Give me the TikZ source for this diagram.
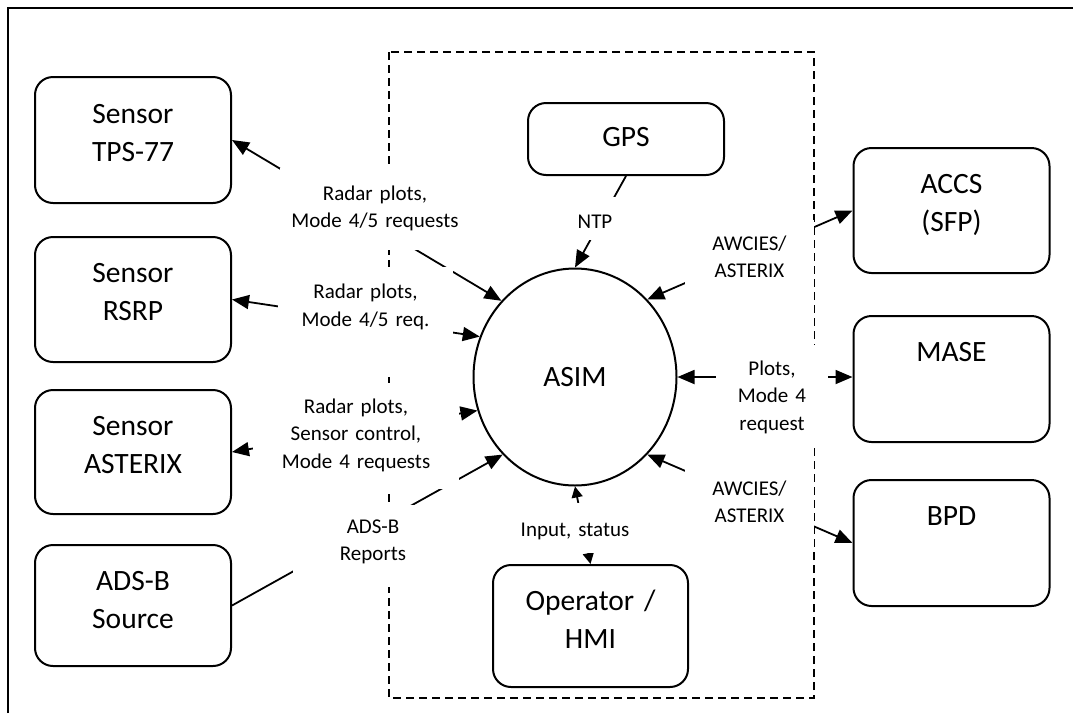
\documentclass[tikz,border=0pt]{standalone}
\usepackage{fontspec}
\setmainfont{Carlito}
\usetikzlibrary{arrows.meta,shapes.geometric}
\newcommand\boxfont{\fontsize{29.5}{38}\selectfont}
\newcommand\lblfont{\fontsize{21}{27.5}\selectfont}
\begin{document}
\begin{tikzpicture}[x=1pt,y=-1pt,
  blk/.style 2 args={draw, line width=2pt, rounded corners=18pt, inner sep=0pt,
    text width=196pt, align=center, font=\boxfont, text height=#1, text depth=#2},
  lbl/.style={fill=white, inner sep=0pt, align=center, font=\lblfont},
  link/.style={line width=1.8pt},
  >={Triangle[length=17pt,width=14pt]},
  smalltips/.style={>={Triangle[length=11pt,width=11pt]}},
  boundary/.style={line width=1.8pt, dash pattern=on 8pt off 5pt}]
\useasboundingbox (0,0) rectangle (1073,713);

% outer frame (top and left edges only)
\draw[line width=2pt] (8,713) -- (8,8) -- (1073,8);

% external systems, left column
\node[blk={46pt}{80pt}] (tps)      at (133,140)   {Sensor\\TPS-77};
\node[blk={45pt}{80pt}] (rsrp)     at (133,299.5) {Sensor\\RSRP};
\node[blk={45pt}{79pt}] (asterixs) at (133,452)   {Sensor\\ASTERIX};
\node[blk={45pt}{76pt}] (adsb)     at (133,605.5) {ADS-B\\Source};

% external systems, right column
\node[blk={45pt}{80pt}] (accs) at (951.5,210.5) {ACCS\\(SFP)};
\node[blk={45pt}{81pt}] (mase) at (951.5,379)   {MASE};
\node[blk={45pt}{81pt}] (bpd)  at (951.5,543)   {BPD};

% elements inside the system boundary
\node[blk={43pt}{29pt}] (gps) at (626,139)   {GPS};
\node[blk={45pt}{77pt}, text width=195pt] (op) at (590.5,626) {Operator /\\HMI};
\node[draw, ellipse, line width=2pt, minimum width=203pt, minimum height=217pt,
      inner sep=0pt, font=\boxfont] (asim) at (575,377) {ASIM};

% system boundary
\draw[boundary] (389,52) rectangle (814,698);

% data flows
\draw[link,<->] (tps.east) -- (asim.134);
\draw[link,<->] (rsrp.east) -- (asim.157);
\draw[link,<->] (asterixs.east) -- (asim.199);
\draw[link,->]  (adsb.east) -- (asim.227);
\draw[link,->]  (gps.south) -- (asim.north);
\draw[link,<->] (asim.47) -- (accs.west);
\draw[link,<->] (asim.east) -- (asim.east -| mase.west);
\draw[link,<->] (asim.-47) -- (bpd.west);
\draw[link,smalltips,<->] (asim.south) -- (op.north);

% flow labels
\node[lbl, text width=190pt, text height=32pt, text depth=50pt] (l1) at (375,209)
  {Radar plots,\\Mode 4/5 requests};
\node[lbl, text width=175pt, text height=31.5pt, text depth=78.5pt] (l2) at (365.5,322)
  {Radar plots,\\Mode 4/5 req.};
\node[lbl, text width=206pt, text height=30pt, text depth=76pt] (l3) at (356,436)
  {Radar plots,\\Sensor control,\\Mode 4 requests};
\node[lbl, text width=160pt, text height=28pt, text depth=54pt] (l4) at (373,546)
  {ADS-B\\Reports};
\node[lbl, text width=60pt, text height=31pt, text depth=12pt] (l5) at (595,218.5)
  {NTP};
\node[lbl, text width=129pt, text height=30pt, text depth=95pt] (l6) at (749.5,282.5)
  {AWCIES/\\ASTERIX};
\node[lbl, text width=112pt, text height=30pt, text depth=72pt] (l7) at (772,396)
  {Plots,\\Mode 4\\request};
\node[lbl, text width=129pt, text height=48pt, text depth=52pt] (l8) at (749.5,497)
  {AWCIES/\\ASTERIX};
\node[lbl, text width=130pt, text height=33pt, text depth=17pt] (l9) at (575,528)
  {Input, status};
\end{tikzpicture}
\end{document}
